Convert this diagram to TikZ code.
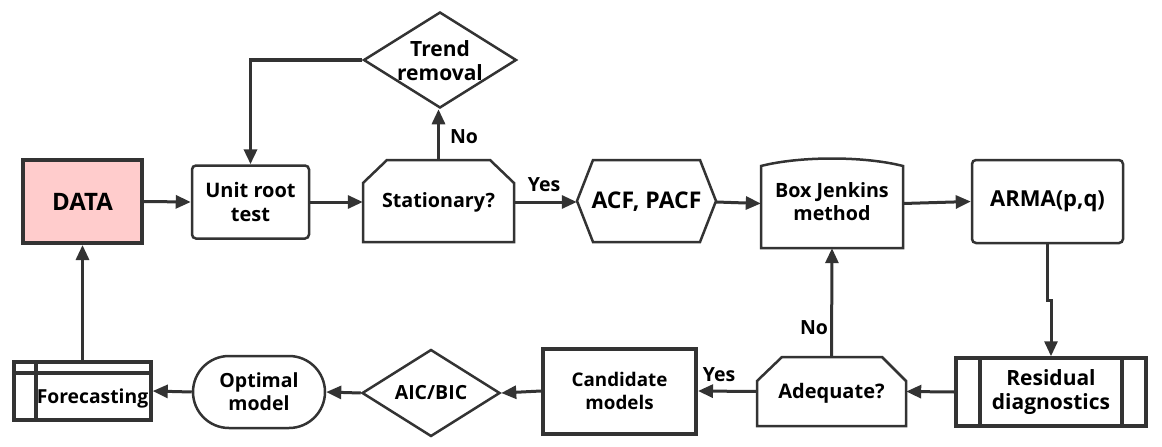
\documentclass[tikz,border=0pt]{standalone}
\usepackage{fontspec}
\setmainfont{Open Sans}
\usetikzlibrary{arrows.meta,shapes.geometric,shapes.misc}
\definecolor{ln}{HTML}{333333}
\definecolor{pinkfill}{HTML}{FFCCCC}
\tikzset{
  lbl/.style={font=\bfseries\fontsize{19.5}{23}\selectfont, align=center, text=black, inner sep=0pt},
  holder/.style={rectangle, draw=none, inner sep=0pt, minimum width=#1},
  outline/.style={draw=ln, line width=2.5pt, line join=miter},
  conn/.style={draw=ln, line width=3pt, -{Triangle[length=15pt,width=13pt]}},
  ynlbl/.style={font=\bfseries\fontsize{19.5}{23}\selectfont, text=black, inner sep=0pt}
}
\begin{document}
\begin{tikzpicture}[x=1pt,y=-1pt]
\useasboundingbox (0,0) rectangle (1162,447);
\fill[white] (0,0) rectangle (1162,447);

% DATA
\node[holder=119pt, minimum height=83pt, draw=ln, fill=pinkfill, line width=4pt, lbl, font=\bfseries\fontsize{24}{28}\selectfont] (data) at (82.5,201.5) {DATA};
% Unit root test
\node[holder=117pt, minimum height=73pt, draw=ln, line width=2.5pt, rounded corners=4pt, lbl, font=\bfseries\fontsize{20}{23.5}\selectfont] (unit) at (250.5,202) {Unit root\\test};
% Stationary?
\node[holder=151pt, minimum height=82pt, lbl, font=\bfseries\fontsize{19.7}{23}\selectfont] (stat) at (438.5,202) {Stationary?};
\draw[outline] (363,242) -- (363,183) -- (387,160) -- (490,160) -- (514,183) -- (514,242) -- cycle;
% Trend removal
\node[diamond, draw=ln, line width=2.5pt, minimum width=153pt, minimum height=96pt, inner sep=0pt] (trend) at (440,60) {};
\node[lbl, font=\bfseries\fontsize{21}{24}\selectfont] at (440,61) {Trend\\removal};
% ACF PACF
\node[holder=139pt, minimum height=82pt, lbl, font=\bfseries\fontsize{23}{27}\selectfont] (acf) at (646.5,202) {ACF, PACF};
\draw[outline] (577,201) -- (593,160) -- (700,160) -- (716,201) -- (700,242) -- (593,242) -- cycle;
% Box Jenkins
\node[holder=142pt, minimum height=89pt] (box) at (832,203.5) {};
\node[lbl, font=\bfseries\fontsize{19.7}{23}\selectfont] at (832,202) {Box Jenkins\\method};
\draw[outline] (761,248) -- (761,166) .. controls (800,156) and (864,156) .. (903,166) -- (903,248) -- cycle;
% ARMA
\node[holder=151pt, minimum height=83pt, draw=ln, line width=2.5pt, rounded corners=4pt, lbl, font=\bfseries\fontsize{22}{26}\selectfont] (arma) at (1047.5,201.5) {ARMA(p,q)};
% Residual diagnostics
\node[holder=190pt, minimum height=68pt, draw=ln, line width=3.5pt, lbl, font=\bfseries\fontsize{21}{24.5}\selectfont] (resid) at (1051,392) {Residual\\diagnostics};
\draw[ln, line width=3.5pt] (980,357) -- (980,425) (1122,357) -- (1122,425);
% Adequate?
\node[holder=149pt, minimum height=69pt] (adeq) at (831.5,391.5) {};
\node[lbl, font=\bfseries\fontsize{20}{24}\selectfont] at (831.5,393) {Adequate?};
\draw[outline] (757,426) -- (757,381) -- (782,357) -- (882,357) -- (906,381) -- (906,426) -- cycle;
% Candidate models
\node[holder=153pt, minimum height=85pt, draw=ln, line width=4pt, lbl, font=\bfseries\fontsize{18.8}{22.5}\selectfont] (cand) at (619.5,391) {Candidate\\models};
% AIC/BIC
\node[diamond, draw=ln, line width=2.5pt, minimum width=138pt, minimum height=87pt, inner sep=0pt] (aic) at (431,393) {};
\node[lbl, font=\bfseries\fontsize{19.5}{23}\selectfont] at (431,393) {AIC/BIC};
% Optimal model
\node[rounded rectangle, draw=ln, line width=2.5pt, minimum width=132pt, minimum height=72pt, inner sep=0pt, lbl] (opt) at (259,392) {Optimal\\model};
% Forecasting
\node[holder=137pt, minimum height=58pt, draw=ln, line width=3.5pt] (fore) at (82.5,391) {};
\draw[ln, line width=3.5pt] (36,362) -- (36,420) (14,373) -- (151,373);
\node[lbl, font=\bfseries\fontsize{19.3}{23}\selectfont] at (92.5,398) {Forecasting};

% connectors
\draw[conn] (data.east) -- (unit.west);
\draw[conn] (unit.east) -- (stat.west);
\draw[conn] (stat.north) -- (stat.north |- trend.south);
\node[ynlbl] at (464,137) {No};
\draw[conn, line width=3.5pt] (trend.west) -| (unit.north);
\draw[conn] (stat.east) -- (acf.west);
\node[ynlbl] at (544,185) {Yes};
\draw[conn] (acf.east) -- (box.west);
\draw[conn] (box.east) -- (arma.west);
\coordinate (j1) at (1047,300);
\coordinate (j2) at (1051,300);
\draw[conn] (arma.south -| j1) -- (j1) -- (j2) -- (resid.north);
\draw[conn] (resid.west) -- (adeq.east);
\draw[conn] (adeq.north) -- (box.south);
\node[ynlbl] at (814,328) {No};
\draw[conn] (adeq.west) -- (cand.east);
\node[ynlbl] at (719,375) {Yes};
\draw[conn] (cand.west) -- (aic.east);
\draw[conn] (aic.west) -- (opt.east);
\draw[conn] (opt.west) -- (fore.east);
\draw[conn] (fore.north) -- (data.south);
\end{tikzpicture}
\end{document}
